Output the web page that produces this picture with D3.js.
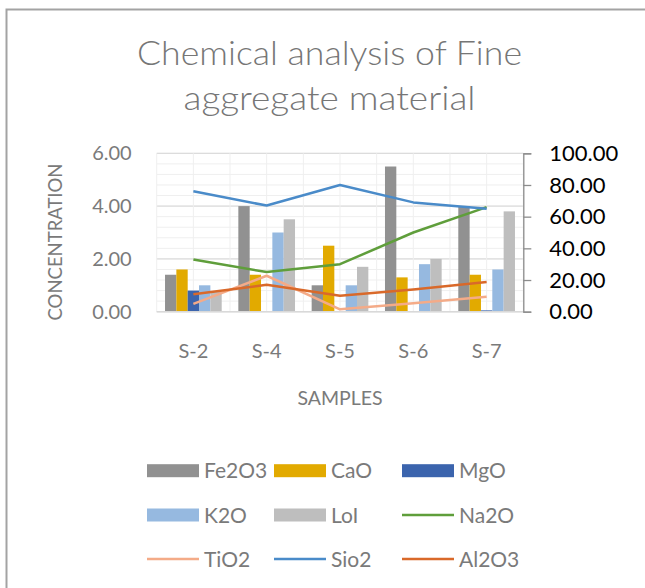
<!DOCTYPE html>
<html>
<head>
<meta charset="utf-8">
<script src="https://cdn.jsdelivr.net/npm/d3@7"></script>
<style>
  html, body { margin: 0; padding: 0; background: #fff; }
  svg { display: block; font-family: Lato, "Open Sans", sans-serif; }
</style>
</head>
<body>
<svg id="chart" width="645" height="588"></svg>
<script>
// ---- data ----
const samples = ["S-2", "S-4", "S-5", "S-6", "S-7"];
const barSeries = ["Fe2O3", "CaO", "MgO", "K2O", "LoI"];
const fe2o3 = [1.4, 4.0, 1.0, 5.5, 4.0];
const cao   = [1.6, 1.4, 2.5, 1.3, 1.4];
const mgo   = [0.8, 0.02, 0, 0, 0.05];
const k2o   = [1.0, 3.0, 1.0, 1.8, 1.6];
const loi   = [0.75, 3.5, 1.7, 2.0, 3.8];
const lineSeries = ["Na2O", "TiO2", "Sio2", "Al2O3"];
const na2o  = [33, 25, 30, 50, 66];
const tio2  = [4.9, 22.7, 1.5, 5.3, 9.5];
const sio2  = [76, 67, 80, 69, 65];
const al2o3 = [11, 17, 10, 14, 18.8];
const leftTicks = [0, 2, 4, 6];
const rightTicks = [0, 20, 40, 60, 80, 100];
const legendOrder = ["Fe2O3", "CaO", "MgO", "K2O", "LoI", "Na2O", "TiO2", "Sio2", "Al2O3"];

const barValues = { Fe2O3: fe2o3, CaO: cao, MgO: mgo, K2O: k2o, LoI: loi };
const lineValues = { Na2O: na2o, TiO2: tio2, Sio2: sio2, Al2O3: al2o3 };
const colors = {
  Fe2O3: "#919191", CaO: "#e2aa00", MgO: "#3b64ad", K2O: "#96b9e0", LoI: "#bebebe",
  Na2O: "#5f9e3b", TiO2: "#f4ab88", Sio2: "#4a8bc9", Al2O3: "#d9692a"
};

// ---- layout ----
const L = 156.7, R = 523.3, T = 153.3, B = 311.7;
const svg = d3.select("#chart");

// frame
svg.append("path")
  .attr("d", `M6.5,600 L6.5,9.5 L660,9.5`)
  .attr("fill", "none").attr("stroke", "#a3a3a3").attr("stroke-width", 2);

// title
const title = svg.append("text").attr("text-anchor", "middle")
  .attr("fill", "#767676").attr("font-size", 33).attr("font-weight", 300);
title.append("tspan").attr("x", 329.5).attr("y", 65)
  .attr("textLength", 385).attr("lengthAdjust", "spacingAndGlyphs")
  .text("Chemical analysis of Fine");
title.append("tspan").attr("x", 329.5).attr("y", 110)
  .attr("textLength", 292).attr("lengthAdjust", "spacingAndGlyphs")
  .text("aggregate material");

// scales
const x0 = d3.scaleBand().domain(samples).range([L, R]).paddingInner(0.227).paddingOuter(0.1135);
const x1 = d3.scaleBand().domain(barSeries).range([0, x0.bandwidth()]).padding(0);
const y = d3.scaleLinear().domain([0, 6]).range([B, T]);
const y2 = d3.scaleLinear().domain([0, 100]).range([B, T]);
const step = x0.step();

// gridlines horizontal (minor every 0.4, major every 2)
const g = svg.append("g");
const minor = d3.range(0, 6.0001, 0.4);
g.selectAll("line.hm").data(minor).join("line")
  .attr("x1", L).attr("x2", R)
  .attr("y1", d => y(d)).attr("y2", d => y(d))
  .attr("stroke", "#efefef").attr("stroke-width", 1);
g.selectAll("line.hM").data(leftTicks).join("line")
  .attr("x1", L).attr("x2", R)
  .attr("y1", d => y(d)).attr("y2", d => y(d))
  .attr("stroke", "#dcdcdc").attr("stroke-width", 1.3);
// vertical gridlines every half category
const vx = d3.range(0, samples.length * 2 + 1).map(k => L + k * step / 2);
g.selectAll("line.v").data(vx).join("line")
  .attr("x1", d => d).attr("x2", d => d)
  .attr("y1", T).attr("y2", B)
  .attr("stroke", "#efefef").attr("stroke-width", 1);

// bars
const bars = svg.append("g");
samples.forEach((s, i) => {
  bars.append("g").attr("transform", `translate(${x0(s)},0)`)
    .selectAll("rect").data(barSeries.map(k => ({ k, v: barValues[k][i] }))).join("rect")
    .attr("x", d => x1(d.k)).attr("width", x1.bandwidth())
    .attr("y", d => y(d.v)).attr("height", d => B - y(d.v))
    .attr("fill", d => colors[d.k]);
});

// bottom baseline
svg.append("line").attr("x1", L).attr("x2", R).attr("y1", B).attr("y2", B)
  .attr("stroke", "#d9d9d9").attr("stroke-width", 1.5);

// lines
const cx = s => x0(s) + x0.bandwidth() / 2;
const lineGen = d3.line().x(d => cx(d.s)).y(d => y2(d.v));
lineSeries.forEach(k => {
  svg.append("path")
    .datum(samples.map((s, i) => ({ s, v: lineValues[k][i] })))
    .attr("d", lineGen).attr("fill", "none")
    .attr("stroke", colors[k]).attr("stroke-width", 2.5)
    .attr("stroke-linejoin", "round");
});

// left axis
const la = svg.append("g").attr("transform", `translate(${L},0)`)
  .call(d3.axisLeft(y).tickValues(leftTicks).tickFormat(d3.format(".2f")).tickSize(0).tickPadding(25));
la.select(".domain").remove();
la.selectAll("text").attr("font-size", 20).attr("fill", "#7a7a7a").attr("font-family", "Lato");

// right axis
const ra = svg.append("g").attr("transform", `translate(${R},0)`)
  .call(d3.axisRight(y2).tickValues(rightTicks).tickFormat(d3.format(".2f")).tickSize(8).tickPadding(18));
ra.select(".domain").attr("stroke", "#8c8c8c").attr("stroke-width", 1.3);
ra.selectAll("line").attr("stroke", "#8c8c8c").attr("stroke-width", 1.3);
ra.selectAll("text").attr("font-size", 22).attr("fill", "#000").attr("font-family", "Lato");

// x axis labels
svg.append("g").selectAll("text").data(samples).join("text")
  .attr("x", d => cx(d)).attr("y", 358)
  .attr("text-anchor", "middle").attr("font-size", 20).attr("fill", "#7a7a7a")
  .text(d => d);

// axis titles
svg.append("text").attr("x", 340).attr("y", 405).attr("text-anchor", "middle")
  .attr("font-size", 19.5).attr("fill", "#7a7a7a").text("SAMPLES");
svg.append("text").attr("transform", "translate(62,242) rotate(-90)")
  .attr("text-anchor", "middle").attr("font-size", 18.5).attr("fill", "#7a7a7a")
  .text("CONCENTRATION");

// legend
const colX = [147, 274, 402];
const rowY = [470.7, 515, 559];
const leg = svg.append("g");
legendOrder.forEach((k, i) => {
  const cxL = colX[i % 3], cyL = rowY[Math.floor(i / 3)];
  if (barSeries.includes(k)) {
    leg.append("rect").attr("x", cxL).attr("y", cyL - 6.5).attr("width", 52).attr("height", 13)
      .attr("fill", colors[k]);
  } else {
    leg.append("line").attr("x1", cxL).attr("x2", cxL + 52).attr("y1", cyL).attr("y2", cyL)
      .attr("stroke", colors[k]).attr("stroke-width", 2.5);
  }
  leg.append("text").attr("x", cxL + 57).attr("y", cyL).attr("dy", "0.36em")
    .attr("font-size", 21).attr("fill", "#7a7a7a").text(k);
});
</script>
</body>
</html>
